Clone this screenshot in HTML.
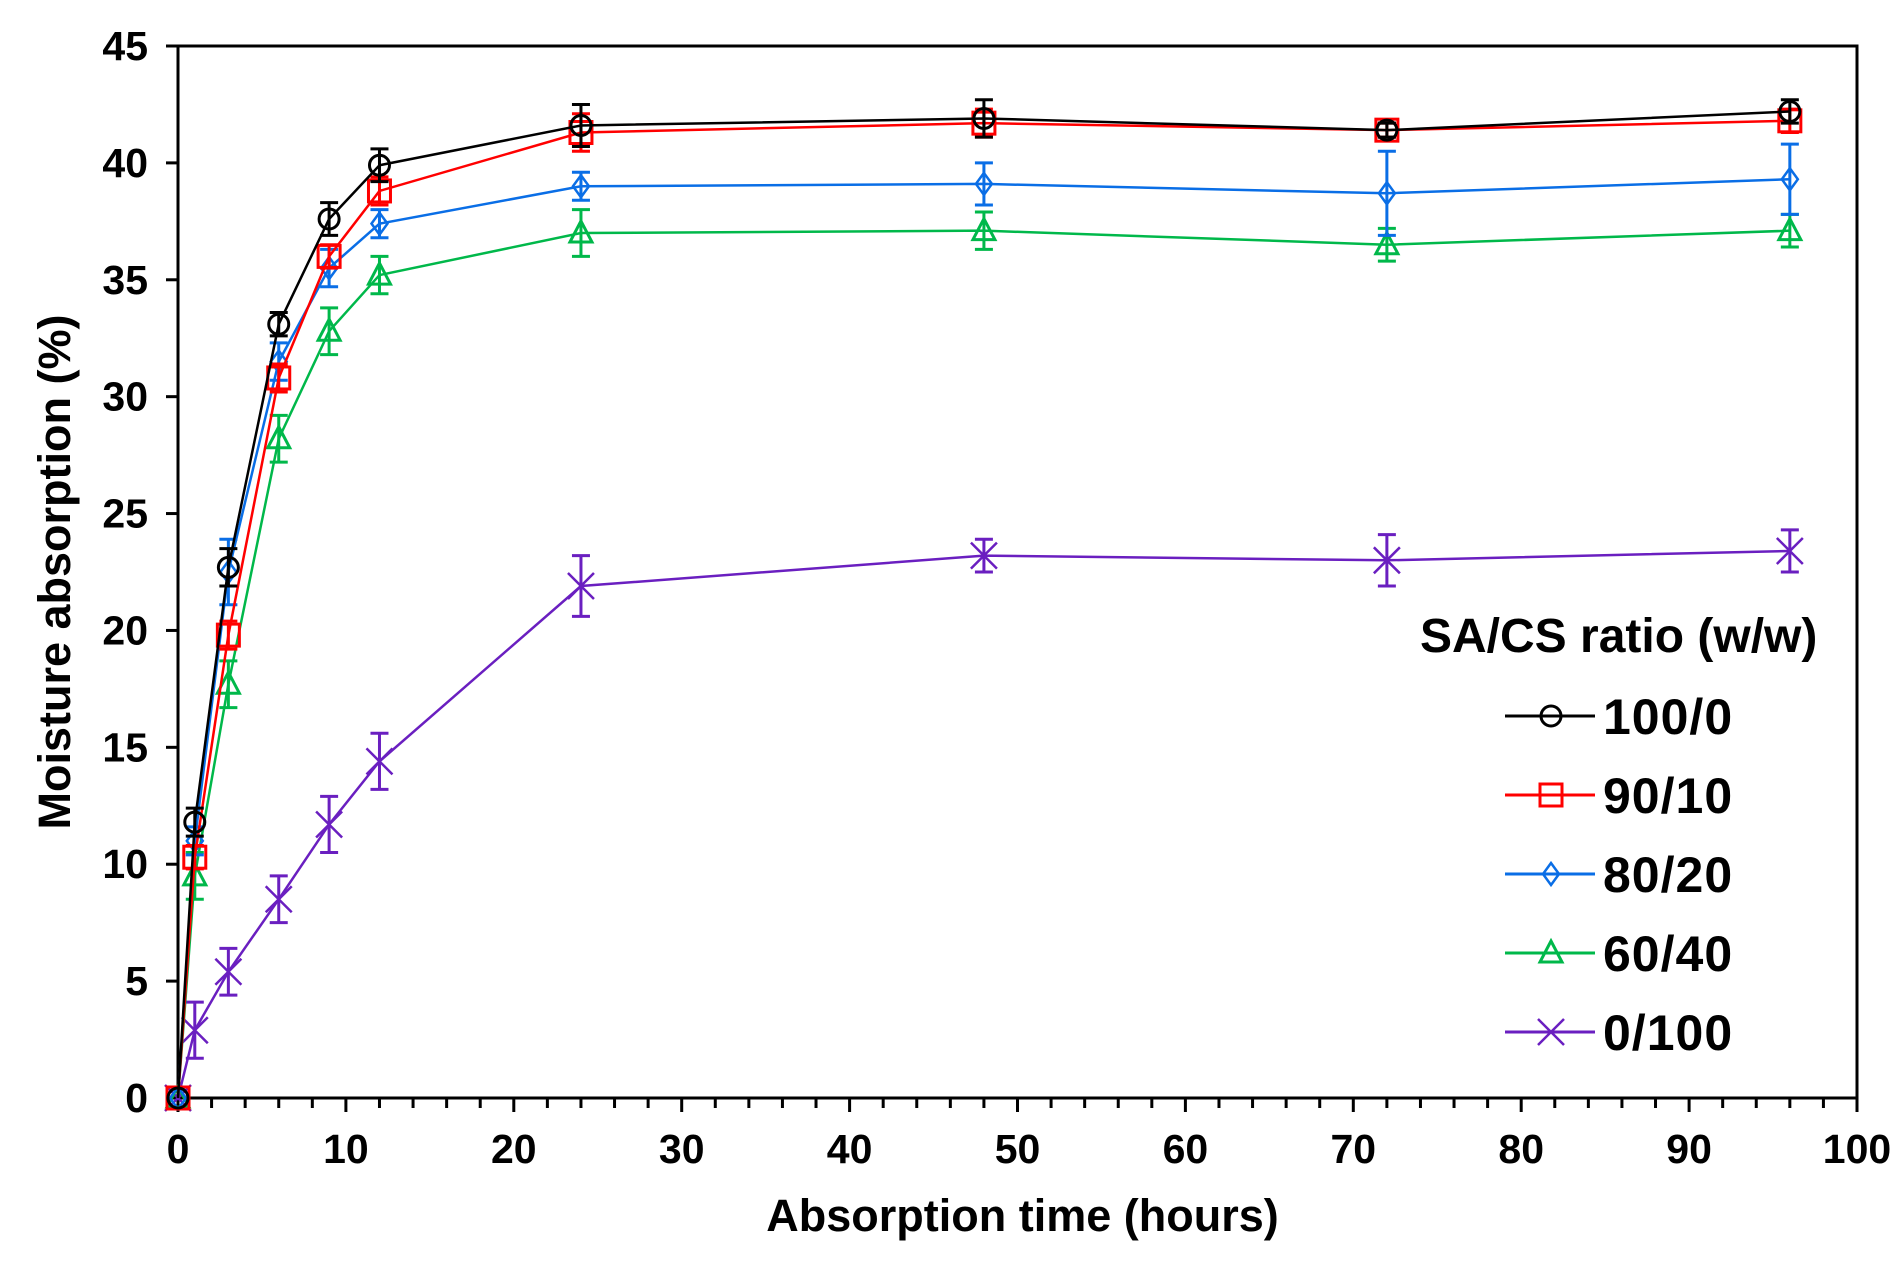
<!DOCTYPE html>
<html><head><meta charset="utf-8"><style>
html,body{margin:0;padding:0;background:#fff}
svg{display:block;font-family:"Liberation Sans",Arial,sans-serif;font-weight:bold}
</style></head><body>
<svg id="chart" width="1903" height="1268" viewBox="0 0 1903 1268"></svg>
<script>
const times = [0, 1, 3, 6, 9, 12, 24, 48, 72, 96];
const s100_0 = [0, 11.8, 22.7, 33.1, 37.6, 39.9, 41.6, 41.9, 41.4, 42.2];
const e100_0 = [0, 0.6, 0.8, 0.5, 0.7, 0.7, 0.9, 0.8, 0.3, 0.5];
const s90_10 = [0, 10.3, 19.8, 30.8, 36.0, 38.8, 41.3, 41.7, 41.4, 41.8];
const e90_10 = [0, 0.5, 0.6, 0.6, 0.5, 0.6, 0.8, 0.6, 0.3, 0.5];
const s80_20 = [0, 11.0, 22.5, 31.5, 35.5, 37.4, 39.0, 39.1, 38.7, 39.3];
const e80_20 = [0, 0.6, 1.4, 0.8, 0.8, 0.6, 0.6, 0.9, 1.8, 1.5];
const s60_40 = [0, 9.5, 17.7, 28.2, 32.8, 35.2, 37.0, 37.1, 36.5, 37.1];
const e60_40 = [0, 1.0, 1.0, 1.0, 1.0, 0.8, 1.0, 0.8, 0.7, 0.7];
const s0_100 = [0, 2.9, 5.4, 8.5, 11.7, 14.4, 21.9, 23.2, 23.0, 23.4];
const e0_100 = [0, 1.2, 1.0, 1.0, 1.2, 1.2, 1.3, 0.7, 1.1, 0.9];
const seriesNames = ["100/0", "90/10", "80/20", "60/40", "0/100"];
const xTicks = [0, 10, 20, 30, 40, 50, 60, 70, 80, 90, 100];
const yTicks = [0, 5, 10, 15, 20, 25, 30, 35, 40, 45];

const svg = document.getElementById('chart');
const NS = 'http://www.w3.org/2000/svg';
const L = 178, R = 1857, T = 46, B = 1098;
const xs = v => L + (v / 100) * (R - L);
const ys = v => B - (v / 45) * (B - T);
function mk(tag, attrs, parent) {
  const e = document.createElementNS(NS, tag);
  for (const k in attrs) e.setAttribute(k, attrs[k]);
  (parent || svg).appendChild(e);
  return e;
}
const frame = mk('rect', {x: L, y: T, width: R - L, height: B - T, fill: 'none', stroke: '#000', 'stroke-width': 3});


for (let v = 0; v <= 100; v += 2) {
  const major = v % 10 === 0;
  const t = mk('line', {x1: xs(v), x2: xs(v), y1: B, y2: B + (major ? 14 : 10), stroke: '#000', 'stroke-width': 3});
  
  
}
xTicks.forEach(v => {
  const t = mk('text', {x: xs(v), y: 1163, 'text-anchor': 'middle', 'font-size': 41});
  t.textContent = v;
  
  
});
yTicks.forEach(v => {
  const t = mk('line', {x1: L - 12, x2: L, y1: ys(v), y2: ys(v), stroke: '#000', 'stroke-width': 3});
  
  
  const l = mk('text', {x: L - 30, y: ys(v) + 14, 'text-anchor': 'end', 'font-size': 41});
  l.textContent = v;
  
  
});
const xt = mk('text', {x: (L + R) / 2 + 5, y: 1231, 'text-anchor': 'middle', 'font-size': 45});
xt.textContent = 'Absorption  time (hours)';


const yt = mk('text', {x: 0, y: 0, 'text-anchor': 'middle', 'font-size': 45, transform: 'translate(70,572) rotate(-90)'});
yt.textContent = 'Moisture  absorption  (%)';



function marker(type, cx, cy, color, g) {
  if (type === 'circle') return mk('circle', {cx, cy, r: 10, fill: 'none', stroke: color, 'stroke-width': 3}, g);
  if (type === 'square') return mk('rect', {x: cx - 11, y: cy - 11, width: 22, height: 22, fill: 'none', stroke: color, 'stroke-width': 3}, g);
  if (type === 'diamond') return mk('path', {d: `M${cx},${cy-11} L${cx+8},${cy} L${cx},${cy+11} L${cx-8},${cy} Z`, fill: 'none', stroke: color, 'stroke-width': 2.5}, g);
  if (type === 'triangle') return mk('path', {d: `M${cx},${cy-12} L${cx+11},${cy+9} L${cx-11},${cy+9} Z`, fill: 'none', stroke: color, 'stroke-width': 3}, g);
  return mk('path', {d: `M${cx-13},${cy-13} L${cx+13},${cy+13} M${cx+13},${cy-13} L${cx-13},${cy+13}`, stroke: color, 'stroke-width': 2.5}, g);
}
const series = [
  {vals: s100_0, errs: e100_0, color: '#000000', m: 'circle', key: '100-0'},
  {vals: s90_10, errs: e90_10, color: '#ff0000', m: 'square', key: '90-10'},
  {vals: s80_20, errs: e80_20, color: '#0a6ee6', m: 'diamond', key: '80-20'},
  {vals: s60_40, errs: e60_40, color: '#00b84a', m: 'triangle', key: '60-40'},
  {vals: s0_100, errs: e0_100, color: '#6a1fc0', m: 'cross', key: '0-100'}
];
series.slice().reverse().forEach(s => {
  const g = mk('g', {});
  
  
  const line = mk('polyline', {points: times.map((t, i) => xs(t) + ',' + ys(s.vals[i])).join(' '), fill: 'none', stroke: s.color, 'stroke-width': 2.5}, g);
  
  
  times.forEach((t, i) => {
    const x = xs(t), y = ys(s.vals[i]);
    if (s.errs[i] > 0) {
      const y1 = ys(s.vals[i] + s.errs[i]), y2 = ys(s.vals[i] - s.errs[i]);
      const eb = mk('path', {d: `M${x},${y1} L${x},${y2} M${x-9},${y1} L${x+9},${y1} M${x-9},${y2} L${x+9},${y2}`, stroke: s.color, 'stroke-width': 3, fill: 'none'}, g);
      
      
    }
    const p = marker(s.m, x, y, s.color, g);
    
    
  });
});
const lg = mk('g', {});


const lt = mk('text', {x: 1420, y: 652, 'font-size': 48}, lg);
lt.textContent = 'SA/CS ratio (w/w)';


series.forEach((s, i) => {
  const y = 716 + i * 79;
  const eg = mk('g', {}, lg);
  
  
  mk('line', {x1: 1505, x2: 1595, y1: y, y2: y, stroke: s.color, 'stroke-width': 3}, eg);
  marker(s.m, 1551, y, s.color, eg);
  const tx = mk('text', {x: 1603, y: y + 18, 'font-size': 50, 'letter-spacing': 1}, eg);
  tx.textContent = seriesNames[i];
});
</script>
</body></html>
